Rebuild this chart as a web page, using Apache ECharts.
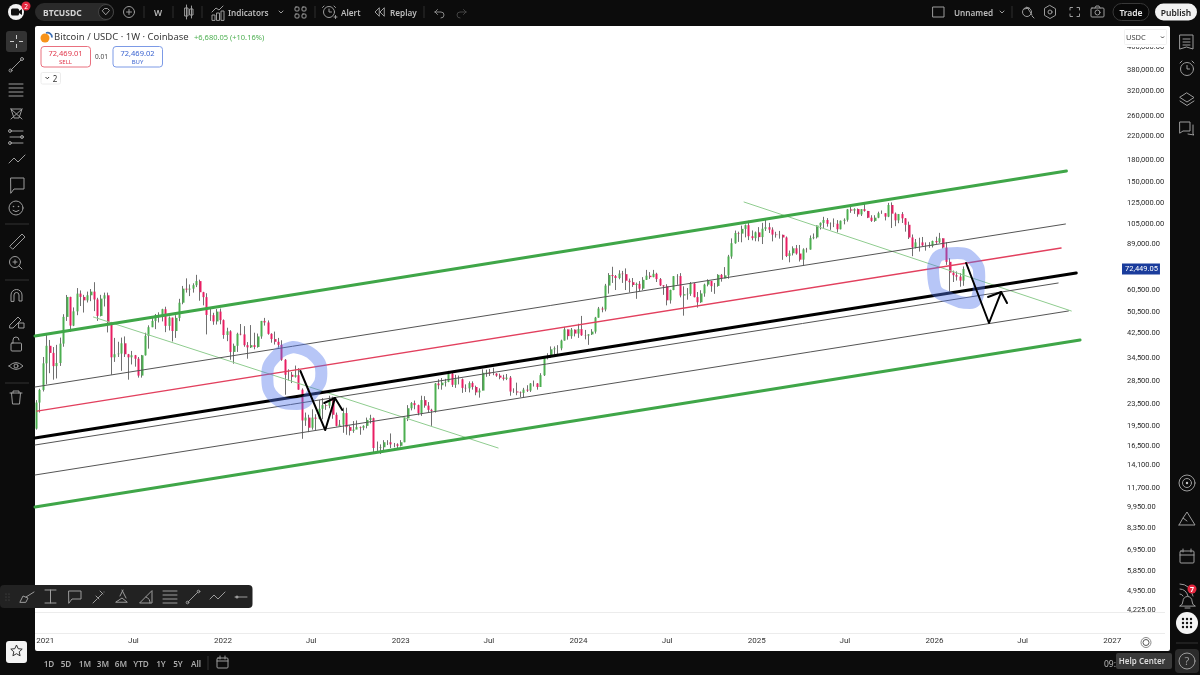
<!DOCTYPE html>
<html>
<head>
<meta charset="utf-8">
<title>BTCUSDC</title>
<script src="https://cdn.jsdelivr.net/npm/echarts@6/dist/echarts.min.js"></script>
<style>
  html, body { margin: 0; padding: 0; width: 1200px; height: 675px; overflow: hidden; background: #0c0c0c; }
  #panel { position: absolute; left: 35px; top: 26px; width: 1135px; height: 625px; background: #fff; border-radius: 2px; }
  .rule { position: absolute; left: 35px; width: 1130px; height: 1px; background: #ececec; }
  #chart { position: absolute; left: 0; top: 0; width: 1200px; height: 675px; }
  #chrome { position: absolute; left: 0; top: 0; pointer-events: none; font-family: 'Noto Sans', Roboto, sans-serif; }
  #chrome .i { fill: none; stroke: #9c9c9c; stroke-width: 1; stroke-linecap: round; stroke-linejoin: round; }
  #chrome .t { fill: #bcbcbc; font-size: 8.200px; }
  #chrome .d { fill: #aaa; font-size: 8.200px; font-weight: 600; text-anchor: middle; }
</style>
</head>
<body>
<div id="panel"></div>
<div class="rule" style="top:612px"></div>
<div class="rule" style="top:633px"></div>
<div id="chart"></div>
<svg id="chrome" width="1200" height="675" viewBox="0 0 1200 675">
  <!-- top bar -->
  <circle cx="16" cy="12" r="8" fill="#f4f4f4"/>
  <rect x="11" y="8.500" width="8" height="7" rx="1.500" fill="#111"/><path d="M19 11l3-2v6l-3-2z" fill="#111"/>
  <circle cx="26" cy="6" r="4.500" fill="#e5273f"/><text x="26" y="8.500" font-size="6.500" fill="#fff" text-anchor="middle">2</text>
  <rect x="35" y="3" width="79" height="18" rx="9" fill="#2a2a2a"/>
  <text x="43" y="15.500" font-size="8.500" font-weight="700" fill="#d4d4d4">BTCUSDC</text>
  <circle cx="106" cy="12" r="7.500" fill="#111" stroke="#444"/><path class="i" d="M102.500 10.500l2-2h3l2 2-3.500 4z"/>
  <circle class="i" cx="129" cy="12" r="5.500"/><path class="i" d="M126.500 12h5M129 9.500v5"/>
  <path d="M144 6v12M173 6v12M202 6v12M315 6v12M424 6v12" stroke="#2e2e2e"/>
  <text x="158" y="15.500" font-size="8.500" font-weight="600" fill="#bcbcbc" text-anchor="middle">W</text>
  <path class="i" d="M185 8h3v8h-3zM186.500 5v14M190 9h3v6h-3zM191.500 6v12"/>
  <path class="i" d="M212 20v-5h3v5zM216.500 20v-7h3v7zM221 20v-9h3v9zM212 12l4-4 3 2 4-4"/>
  <text x="228" y="15.500" class="t" font-weight="600">Indicators</text>
  <path class="i" d="M279 11l2 2 2-2"/>
  <rect class="i" x="295" y="7" width="4" height="4" rx="1"/><rect class="i" x="302" y="7" width="4" height="4" rx="1"/><rect class="i" x="295" y="14" width="4" height="4" rx="1"/><rect class="i" x="302" y="14" width="4" height="4" rx="1"/>
  <circle class="i" cx="329" cy="12" r="5.500"/><path class="i" d="M329 9v3h2.500M324 6l-1.500 1.500M334 6l1.500 1.500M334 17h3M335.500 15.500v3"/>
  <text x="341" y="15.500" class="t" font-weight="600">Alert</text>
  <path class="i" d="M379 8l-4 4 4 4zM384 8l-4 4 4 4z"/>
  <text x="390" y="15.500" class="t" font-weight="600">Replay</text>
  <path d="M435 12h6a3 3 0 0 1 0 6M435 12l2.500-2.500M435 12l2.500 2.500" fill="none" stroke="#888" stroke-linecap="round"/>
  <path d="M466 12h-6a3 3 0 0 0 0 6M466 12l-2.500-2.500M466 12l-2.500 2.500" fill="none" stroke="#444" stroke-linecap="round"/>
  <rect class="i" x="933" y="7" width="11" height="10"/>
  <text x="954" y="15.500" class="t" font-weight="600">Unnamed</text>
  <path class="i" d="M1000 11l2 2 2-2"/>
  <path d="M1012 6v12" stroke="#2e2e2e"/>
  <circle class="i" cx="1027" cy="12" r="4.500"/><path class="i" d="M1027 7l5 8M1032 16l2 2M1024 9l5-1"/>
  <path class="i" d="M1050 5.500l5.500 3.200v6.600l-5.500 3.200-5.500-3.200v-6.600z"/><circle class="i" cx="1050" cy="12" r="2"/>
  <path class="i" d="M1070 10v-2.500h2.500M1077 7.500h2.500v2.500M1079.500 14v2.500h-2.500M1072.500 16.500h-2.500v-2.500"/>
  <rect class="i" x="1091" y="8" width="13" height="9" rx="1"/><path class="i" d="M1095 8l1-2h3l1 2"/><circle class="i" cx="1097.500" cy="12.500" r="2.500"/>
  <rect x="1113" y="3.500" width="36" height="17" rx="8.500" fill="#080808" stroke="#383838"/>
  <text x="1131" y="15.500" font-size="8.500" font-weight="600" fill="#e8e8e8" text-anchor="middle">Trade</text>
  <rect x="1155" y="3.500" width="42" height="17" rx="8.500" fill="#f2f2f2"/>
  <text x="1176" y="15.500" font-size="8.500" font-weight="600" fill="#222" text-anchor="middle">Publish</text>
  <!-- legend -->
  <circle cx="45" cy="38" r="4.500" fill="#f7931a"/><path d="M46 33a4.500 4.500 0 0 1 6 4.500" fill="none" stroke="#3b6fb6" stroke-width="1.800"/>
  <text x="54" y="40" font-size="9.500" fill="#3a3a3a">Bitcoin / USDC · 1W · Coinbase</text>
  <text x="194" y="39.500" font-size="7.500" fill="#4caf50">+6,680.05 (+10.16%)</text>
  <rect x="41" y="46.500" width="49.500" height="20.500" rx="3" fill="#fff" stroke="#e9707f"/>
  <text x="65.500" y="55.500" font-size="7.500" fill="#e0364a" text-anchor="middle">72,469.01</text>
  <text x="65.500" y="64" font-size="6" fill="#e0364a" text-anchor="middle">SELL</text>
  <text x="101.500" y="59" font-size="6.500" fill="#444" text-anchor="middle">0.01</text>
  <rect x="113" y="46.500" width="49.500" height="20.500" rx="3" fill="#fff" stroke="#7c9ae6"/>
  <text x="137.500" y="55.500" font-size="7.500" fill="#3a63d0" text-anchor="middle">72,469.02</text>
  <text x="137.500" y="64" font-size="6" fill="#3a63d0" text-anchor="middle">BUY</text>
  <rect x="41" y="72.500" width="19.500" height="11.500" rx="1.500" fill="#fff" stroke="#ececec"/>
  <path d="M45.500 77l1.800 1.800 1.800-1.800" fill="none" stroke="#333"/><text x="55" y="81.500" font-size="8" fill="#333" text-anchor="middle">2</text>
  <!-- price scale currency box -->
  <rect x="1124" y="27" width="43" height="20" fill="#fff"/>
  <rect x="1124.500" y="29.500" width="42" height="15" rx="1" fill="#fff" stroke="#f1f1f1"/>
  <text x="1126" y="39.500" font-size="7.500" fill="#444">USDC</text>
  <path d="M1161 36.500l1.500 1.500 1.500-1.500" fill="none" stroke="#444"/>
  <!-- left tools -->
  <rect x="6" y="31" width="21" height="21" rx="3" fill="#333"/>
  <path d="M16.500 35v4M16.500 44v4M10 41.500h4M19 41.500h4" stroke="#ccc" fill="none"/>
  <path class="i" d="M11 70l10-10"/><circle class="i" cx="10.500" cy="70.500" r="1.500"/><circle class="i" cx="22" cy="59" r="1.500"/>
  <path class="i" d="M9 84h14M9 88h14M9 92h14M9 96h14"/>
  <path class="i" d="M11 109l10 0M11 109l3 9 5 0 3-9M11 119l11-10M11 109l11 10"/>
  <path class="i" d="M10 131h13M10 137h13M10 143h13"/><circle class="i" cx="10" cy="131" r="1.500"/><circle class="i" cx="22" cy="137" r="1.500"/><circle class="i" cx="10" cy="143" r="1.500"/>
  <path class="i" d="M9 163l5-5 4 4 7-7"/>
  <path class="i" d="M11 178h13v11h-10l-3 4z"/>
  <circle class="i" cx="16" cy="208" r="7"/><circle cx="13.500" cy="206.500" r=".8" fill="#9c9c9c"/><circle cx="18.500" cy="206.500" r=".8" fill="#9c9c9c"/><path class="i" d="M13 210.500q3 2.500 6 0"/>
  <path d="M5 224h24M5 280h24M5 383h24" stroke="#333"/>
  <path class="i" d="M10 246l12-12 3 3-12 12z"/>
  <circle class="i" cx="15" cy="262" r="5.500"/><path class="i" d="M19 266l3 3M13 262h4M15 260v4"/>
  <path class="i" d="M11 301v-6a5.500 5.500 0 0 1 11 0v6h-3v-6a2.500 2.500 0 0 0-5 0v6z"/>
  <path class="i" d="M10 325l8-8 3 3-8 8-3 0zM19 323h5v5h-5z"/>
  <rect class="i" x="11" y="343" width="10.500" height="8" rx="1"/><path class="i" d="M13 343v-3a3 3 0 0 1 6 0"/>
  <path class="i" d="M9 366q7-7 14 0q-7 7-14 0z"/><circle class="i" cx="16" cy="366" r="2"/>
  <path class="i" d="M10 393h12M13 393v-2h6v2M11.500 393l1 11h7l1-11"/>
  <!-- right tools -->
  <path class="i" d="M1180 35h13v14l-6.500-2-6.500 2zM1183 39h7M1183 42h7M1183 45h7"/>
  <circle class="i" cx="1187" cy="69" r="6.500"/><path class="i" d="M1187 65.500v3.500h2.500M1180 63l2-2M1194 63l-2-2"/>
  <path class="i" d="M1187 93l7 4.500-7 4.500-7-4.500zM1180 101l7 4.500 7-4.500"/>
  <path class="i" d="M1180 122h10v9h-7l-3 2zM1193 125v9l1 1-6-1"/>
  <circle class="i" cx="1187" cy="483" r="8"/><circle class="i" cx="1187" cy="483" r="4.500"/><circle cx="1187" cy="483" r="1.200" fill="#c8c8c8"/>
  <path class="i" d="M1179 525h16l-8-13-4 6 4 3M1179 525l4-7"/>
  <rect class="i" x="1180" y="551" width="14" height="12" rx="1"/><path class="i" d="M1180 555h14M1183 549v3M1191 549v3"/>
  <path class="i" d="M1180 584q10 0 13 12M1180 589q6 0 8 7M1180 594q2 0 3 2"/>
  <path class="i" d="M1180 606q3-1 3-5a4.500 4.500 0 0 1 9 0q0 4 3 5zM1185 608h5"/>
  <circle cx="1192" cy="589" r="4.500" fill="#e5273f"/><text x="1192" y="592" font-size="7" font-weight="700" fill="#fff" text-anchor="middle">7</text>
  <circle cx="1187" cy="623" r="11" fill="#f4f4f4"/>
  <g fill="#111"><circle cx="1183" cy="619" r="1.200"/><circle cx="1187" cy="619" r="1.200"/><circle cx="1191" cy="619" r="1.200"/><circle cx="1183" cy="623" r="1.200"/><circle cx="1187" cy="623" r="1.200"/><circle cx="1191" cy="623" r="1.200"/><circle cx="1183" cy="627" r="1.200"/><circle cx="1187" cy="627" r="1.200"/><circle cx="1191" cy="627" r="1.200"/></g>
  <path d="M1176 643h22" stroke="#333"/>
  <rect x="1175" y="649" width="24" height="24" rx="4" fill="#2b2b2b"/>
  <circle class="i" cx="1187" cy="661" r="8"/><text x="1187" y="665" font-size="11" fill="#999" text-anchor="middle">?</text>
  <!-- floating drawing toolbar -->
  <rect x="0" y="585" width="252.500" height="23" rx="4" fill="#222"/>
  <g fill="#555"><circle cx="6" cy="594" r=".6"/><circle cx="9" cy="594" r=".6"/><circle cx="6" cy="597" r=".6"/><circle cx="9" cy="597" r=".6"/><circle cx="6" cy="600" r=".6"/><circle cx="9" cy="600" r=".6"/></g>
  <path class="i" d="M20 602l3-6 5 2-2 4zM26 597l8-5"/>
  <path class="i" d="M45 590h11M45 603h11M50.500 590v13"/>
  <path class="i" d="M69 591h12v8h-9l-3 4z"/>
  <path class="i" d="M93 603l4-4M98 598l4-4M104 592l0 0M96 596l3 3M100 591l3 3"/>
  <path class="i" d="M116 602l6-4 5 4zM120 596l3-6M122 590l4 8"/>
  <path class="i" d="M140 603h12v-12zM146 597a6 6 0 0 1 4 6"/>
  <path class="i" d="M163 591h14M163 595h14M163 599h14M163 603h14"/>
  <path class="i" d="M188 602l10-10"/><circle class="i" cx="187.500" cy="602.500" r="1.300"/><circle class="i" cx="198.500" cy="591.500" r="1.300"/>
  <path class="i" d="M210 599l4-4 4 4 7-7"/>
  <path class="i" d="M235 597h12"/><circle cx="237" cy="597" r="1.500" fill="#9c9c9c"/>
  <!-- bottom bar -->
  <rect x="6" y="641" width="21" height="22" rx="3" fill="#f4f4f4"/>
  <path d="M16.500 645l1.700 3.700 4 .4-3 2.700.9 4-3.600-2.100-3.600 2.100.9-4-3-2.700 4-.4z" fill="none" stroke="#333"/>
  <text x="49" y="667" class="d">1D</text><text x="66" y="667" class="d">5D</text><text x="85" y="667" class="d">1M</text>
  <text x="103" y="667" class="d">3M</text><text x="121" y="667" class="d">6M</text><text x="141" y="667" class="d">YTD</text>
  <text x="161" y="667" class="d">1Y</text><text x="178" y="667" class="d">5Y</text><text x="196" y="667" class="d">All</text>
  <path d="M208 656v14" stroke="#333"/>
  <rect class="i" x="217" y="658" width="11" height="10" rx="1"/><path class="i" d="M217 661h11M220 656v3M225 656v3"/>
  <text x="1104" y="667" font-size="8.500" fill="#bbb">09:</text>
  <rect x="1116" y="653" width="56" height="16" rx="2" fill="#3a3a3a"/>
  <text x="1142" y="664" font-size="8" font-weight="600" fill="#dcdcdc" text-anchor="middle">Help Center</text>
  <!-- time scale settings -->
  <circle cx="1146" cy="642.500" r="3" fill="none" stroke="#555"/><circle cx="1146" cy="642.500" r="5" fill="none" stroke="#888"/>
</svg>
<script>
// weekly bars
const weekStarts = [
  '2020-12-14','2020-12-21','2020-12-28',
  '2021-01-04','2021-01-11','2021-01-18','2021-01-25','2021-02-01','2021-02-08','2021-02-15','2021-02-22','2021-03-01','2021-03-08','2021-03-15','2021-03-22','2021-03-29','2021-04-05','2021-04-12','2021-04-19','2021-04-26','2021-05-03','2021-05-10','2021-05-17','2021-05-24','2021-05-31','2021-06-07','2021-06-14','2021-06-21','2021-06-28','2021-07-05','2021-07-12','2021-07-19','2021-07-26','2021-08-02','2021-08-09','2021-08-16','2021-08-23','2021-08-30','2021-09-06','2021-09-13','2021-09-20','2021-09-27','2021-10-04','2021-10-11','2021-10-18','2021-10-25','2021-11-01','2021-11-08','2021-11-15','2021-11-22','2021-11-29','2021-12-06','2021-12-13','2021-12-20','2021-12-27',
  '2022-01-03','2022-01-10','2022-01-17','2022-01-24','2022-01-31','2022-02-07','2022-02-14','2022-02-21','2022-02-28','2022-03-07','2022-03-14','2022-03-21','2022-03-28','2022-04-04','2022-04-11','2022-04-18','2022-04-25','2022-05-02','2022-05-09','2022-05-16','2022-05-23','2022-05-30','2022-06-06','2022-06-13','2022-06-20','2022-06-27','2022-07-04','2022-07-11','2022-07-18','2022-07-25','2022-08-01','2022-08-08','2022-08-15','2022-08-22','2022-08-29','2022-09-05','2022-09-12','2022-09-19','2022-09-26','2022-10-03','2022-10-10','2022-10-17','2022-10-24','2022-10-31','2022-11-07','2022-11-14','2022-11-21','2022-11-28','2022-12-05','2022-12-12','2022-12-19','2022-12-26',
  '2023-01-02','2023-01-09','2023-01-16','2023-01-23','2023-01-30','2023-02-06','2023-02-13','2023-02-20','2023-02-27','2023-03-06','2023-03-13','2023-03-20','2023-03-27','2023-04-03','2023-04-10','2023-04-17','2023-04-24','2023-05-01','2023-05-08','2023-05-15','2023-05-22','2023-05-29','2023-06-05','2023-06-12','2023-06-19','2023-06-26','2023-07-03','2023-07-10','2023-07-17','2023-07-24','2023-07-31','2023-08-07','2023-08-14','2023-08-21','2023-08-28','2023-09-04','2023-09-11','2023-09-18','2023-09-25','2023-10-02','2023-10-09','2023-10-16','2023-10-23','2023-10-30','2023-11-06','2023-11-13','2023-11-20','2023-11-27','2023-12-04','2023-12-11','2023-12-18','2023-12-25',
  '2024-01-01','2024-01-08','2024-01-15','2024-01-22','2024-01-29','2024-02-05','2024-02-12','2024-02-19','2024-02-26','2024-03-04','2024-03-11','2024-03-18','2024-03-25','2024-04-01','2024-04-08','2024-04-15','2024-04-22','2024-04-29','2024-05-06','2024-05-13','2024-05-20','2024-05-27','2024-06-03','2024-06-10','2024-06-17','2024-06-24','2024-07-01','2024-07-08','2024-07-15','2024-07-22','2024-07-29','2024-08-05','2024-08-12','2024-08-19','2024-08-26','2024-09-02','2024-09-09','2024-09-16','2024-09-23','2024-09-30','2024-10-07','2024-10-14','2024-10-21','2024-10-28','2024-11-04','2024-11-11','2024-11-18','2024-11-25','2024-12-02','2024-12-09','2024-12-16','2024-12-23','2024-12-30',
  '2025-01-06','2025-01-13','2025-01-20','2025-01-27','2025-02-03','2025-02-10','2025-02-17','2025-02-24','2025-03-03','2025-03-10','2025-03-17','2025-03-24','2025-03-31','2025-04-07','2025-04-14','2025-04-21','2025-04-28','2025-05-05','2025-05-12','2025-05-19','2025-05-26','2025-06-02','2025-06-09','2025-06-16','2025-06-23','2025-06-30','2025-07-07','2025-07-14','2025-07-21','2025-07-28','2025-08-04','2025-08-11','2025-08-18','2025-08-25','2025-09-01','2025-09-08','2025-09-15','2025-09-22','2025-09-29','2025-10-06','2025-10-13','2025-10-20','2025-10-27','2025-11-03','2025-11-10','2025-11-17','2025-11-24','2025-12-01','2025-12-08','2025-12-15','2025-12-22','2025-12-29',
  '2026-01-05','2026-01-12','2026-01-19','2026-01-26','2026-02-02','2026-02-09','2026-02-16','2026-02-23','2026-03-02'
]
const closes = [
  23800,26450,33000,
  38200,36000,32250,33100,38900,48600,57400,45200,50900,59000,57400,55800,58200,60000,56200,49000,56600,58200,46400,34700,35600,35800,39000,35600,34700,35300,34300,29800,35300,41500,44600,47000,49300,48900,51800,45100,48300,43200,48200,54700,61500,61000,61500,63300,65500,59700,57300,49400,49300,46800,50800,47300,
  41800,43100,36300,38200,42200,42000,38400,37700,38400,37800,41300,47000,46400,42200,40400,39500,38500,34000,30000,30000,29500,29900,26500,20500,21000,19300,21000,20800,22600,23300,23200,24300,21500,19600,19800,21800,19400,18800,19000,19400,19300,19600,20600,20900,16300,16300,16400,17100,17100,16800,16800,16600,
  17100,20900,22700,23700,23300,21800,24300,23200,22400,22200,27900,27500,28100,28300,30300,27600,28900,28900,26900,26800,28000,27100,25900,26300,30500,30600,30300,30300,29800,29300,29000,29300,26100,26100,25900,25800,26500,26300,27900,27900,27100,29900,34500,35000,37100,37400,37400,39900,43800,41400,43700,42300,
  43900,41700,41600,42000,43000,48300,52100,51700,63100,68900,68300,67200,69700,69400,65700,64900,63400,64000,61500,66200,68500,67700,69600,66600,63200,62700,55800,60800,68200,68300,58100,58700,58900,64200,57300,54900,59100,63600,65600,62800,62900,69000,67000,68700,80400,89800,97800,97300,101200,104400,95200,93700,98300,
  94500,101300,102600,100600,96500,96100,96300,94200,80700,82600,86100,82400,78300,85300,85200,93700,94300,104100,106400,109000,105600,105700,105600,100900,108300,109200,119000,117900,119400,114200,119300,117500,111100,108200,111100,115300,115300,112100,123500,114900,108700,114500,110500,104700,94200,86800,90400,90400,88200,88100,87800,91500,
  90500,93600,86600,76900,70300,68800,68000,65769,72449.05
]
const opens = [
  19150,23800,26450,
  33000,38200,36000,32250,33100,38900,48600,57400,45200,50900,59000,57400,55800,58200,60000,56200,49000,56600,58200,46400,34700,35600,35800,39000,35600,34700,35300,34300,29800,35300,41500,44600,47000,49300,48900,51800,45100,48300,43200,48200,54700,61500,61000,61500,63300,65500,59700,57300,49400,49300,46800,50800,
  47300,41800,43100,36300,38200,42200,42000,38400,37700,38400,37800,41300,47000,46400,42200,40400,39500,38500,34000,30000,30000,29500,29900,26500,20500,21000,19300,21000,20800,22600,23300,23200,24300,21500,19600,19800,21800,19400,18800,19000,19400,19300,19600,20600,20900,16300,16300,16400,17100,17100,16800,16800,
  16600,17100,20900,22700,23700,23300,21800,24300,23200,22400,22200,27900,27500,28100,28300,30300,27600,28900,28900,26900,26800,28000,27100,25900,26300,30500,30600,30300,30300,29800,29300,29000,29300,26100,26100,25900,25800,26500,26300,27900,27900,27100,29900,34500,35000,37100,37400,37400,39900,43800,41400,43700,
  42300,43900,41700,41600,42000,43000,48300,52100,51700,63100,68900,68300,67200,69700,69400,65700,64900,63400,64000,61500,66200,68500,67700,69600,66600,63200,62700,55800,60800,68200,68300,58100,58700,58900,64200,57300,54900,59100,63600,65600,62800,62900,69000,67000,68700,80400,89800,97800,97300,101200,104400,95200,93700,
  98300,94500,101300,102600,100600,96500,96100,96300,94200,80700,82600,86100,82400,78300,85300,85200,93700,94300,104100,106400,109000,105600,105700,105600,100900,108300,109200,119000,117900,119400,114200,119300,117500,111100,108200,111100,115300,115300,112100,123500,114900,108700,114500,110500,104700,94200,86800,90400,90400,88200,88100,87800,
  91500,90500,93600,86600,76900,70300,68800,68000,65769
]
const highs = [
  24300,26700,34800,
  41900,40100,37800,38500,40900,49700,58350,57500,52600,61800,60600,58400,60000,61300,64900,57000,58400,59500,59500,46600,40800,39500,40900,41300,35700,36600,35400,34800,35400,42600,45300,48100,49800,50500,52000,52900,48800,48300,49300,56500,62900,67000,63700,64300,69000,66300,59900,59200,51900,50300,51900,52100,
  47600,44400,43500,38900,42600,45800,45000,39400,45400,42600,42300,47000,48200,47200,42400,43000,40800,40000,34200,31400,30700,32400,31700,26800,21900,21500,22500,21600,24300,24700,23500,25200,25000,21900,20600,22800,22800,19700,20400,20500,19500,19700,21000,21500,21000,17200,16800,17400,17400,18400,17000,16950,
  17400,21200,23300,23900,24200,23400,25200,25100,23900,22600,28000,28900,29200,29000,31000,30500,30000,29800,29100,27700,28400,28400,27400,26800,31400,31300,31500,31800,30400,30300,30000,30200,29700,26800,28100,26100,26900,27500,28000,28600,28000,30400,35100,35900,38000,38000,38400,40200,44700,43800,44300,43800,
  45900,49000,43600,42100,43900,48600,52800,52900,64000,70000,73800,68900,71700,71300,72800,66900,67200,64700,65500,67700,71900,70600,71900,70200,67200,63300,63800,61000,68300,69400,70000,62700,61800,65000,64500,59800,60700,64100,66500,65600,64500,69400,69500,73600,81500,93500,99800,98900,104000,105000,108300,99900,99000,
  102700,106400,109400,106400,102500,98800,99500,96500,95000,84500,87500,88500,88500,86100,86400,95800,97400,104300,106800,111900,110700,106800,110400,108900,108500,110500,119500,123200,120200,120000,119300,124500,117600,113400,113400,116800,118000,115300,125700,126200,116000,114600,116400,110800,107500,96600,93000,94000,94600,90400,90600,91800,
  94800,97900,93600,90500,79300,71500,71000,70000,74000
]
const lows = [
  19000,21900,26100,
  27700,30400,28800,29100,32300,37900,47000,43000,45000,49300,53200,50400,54800,55400,51000,47000,48800,53000,42700,30000,33400,34800,31000,34800,28800,32700,32100,29300,29300,35200,37300,44600,43900,46400,46800,42800,43400,39600,40800,46900,54000,59500,57800,59500,62300,55600,53500,42000,47000,45500,45600,45700,
  40500,39700,34000,32900,36300,41700,37900,34300,37500,37100,37600,40500,45200,41900,39200,38600,37600,33700,25400,28600,28000,29300,26500,17600,19600,18600,19000,18900,20700,20700,22400,22700,20800,19500,19600,18500,18200,18100,18500,19100,18200,18900,19200,20000,15600,15900,15500,16000,16700,16300,16400,16300,
  16500,17100,20400,22300,22500,21400,21300,22800,21900,19600,21900,26600,26500,27200,28200,27100,26900,27700,25800,26000,25900,26500,25300,24800,26300,29500,29700,29900,29500,28900,28600,28700,25200,25800,25300,24900,24900,26000,26000,27200,26500,27100,29700,34100,34500,35500,35700,36800,39900,40200,40500,41300,
  40800,41500,40300,38500,41800,42300,48300,50500,50900,59000,64500,60800,66500,64500,60800,59600,62400,56500,60200,60800,66100,66700,67600,65000,62900,58400,53500,54300,60700,63500,57200,49100,56100,57900,57200,52500,54600,57500,62700,59900,58900,62500,65200,67000,66800,78900,89400,90800,90500,94300,92200,92000,91300,
  91200,89200,99500,97800,91200,94100,93300,78200,80000,76600,81100,81600,77100,74400,83100,85100,92800,93400,100700,102000,103100,100400,102700,98200,100800,105100,107500,115700,114700,112000,112700,116800,110700,107300,107300,110600,114700,108600,111600,102000,103500,106100,106300,98900,93000,80600,86000,83800,87500,84400,86400,86700,
  89300,90000,86000,75000,60000,65000,65800,62500,63000
]

// time scale and price scale labels
const timeTicks = ['2021-01-01','2021-07-01','2022-01-01','2022-07-01','2023-01-01','2023-07-01','2024-01-01','2024-07-01','2025-01-01','2025-07-01','2026-01-01','2026-07-01','2027-01-01']
const timeLabels = ['2021','Jul','2022','Jul','2023','Jul','2024','Jul','2025','Jul','2026','Jul','2027']
const priceTicks = [460000,380000,320000,260000,220000,180000,150000,125000,105000,89000,60500,50500,42500,34500,28500,23500,19500,16500,14100,11700,9950,8350,6950,5850,4950,4225]

// drawings on the chart: [date, price]
const upperGreen = [['2020-12-11',41450],['2026-09-29',163900]]
const lowerGreen = [['2020-12-11',9968],['2026-10-27',40087]]
const thickBlack = [['2020-12-11',17716],['2026-10-19',70060]]
const redMid = [['2020-12-15',22180],['2026-09-18',86290]]
const thinUpper = [['2020-12-11',27095],['2026-09-27',105400]]
const thinMid = [['2020-12-11',16710],['2026-09-12',64460]]
const thinLower = [['2020-12-11',13013],['2026-10-03',51050]]
const paleGreenA = [['2021-04-10',48550],['2023-07-20',16300]]
const paleGreenB = [['2024-12-06',126600],['2026-10-09',51050]]
const ringA = [['2022-05-25',37810],['2022-07-05',35380],['2022-07-22',30450],['2022-07-09',26430],['2022-06-02',23520],['2022-04-18',24720],['2022-04-02',29940],['2022-04-22',35380],['2022-05-25',37810]]
const ringB = [['2025-12-29',73040],['2026-01-13',81420],['2026-02-17',82770],['2026-03-22',78090],['2026-04-03',67780],['2026-04-01',59320],['2026-03-15',54560],['2026-02-02',56880],['2026-01-02',62350],['2025-12-29',73040]]
const arrowA = [['2022-06-09',30960],['2022-07-30',18930],['2022-08-19',24720],['2022-09-03',22370]]
const arrowAHead = [['2022-07-28',23720],['2022-08-19',24720]]
const arrowB = [['2026-03-07',76150],['2026-04-23',46190],['2026-05-18',59800],['2026-05-30',54560]]
const arrowBHead = [['2026-04-21',57370],['2026-05-18',59800]]

const toTime = (d) => +new Date(d + 'T00:00:00')
const timeLabelByValue = {}
timeTicks.forEach((d, i) => { timeLabelByValue[toTime(d)] = timeLabels[i] })

// one series for the grey wicks, one on top for the coloured bodies
const wickData = weekStarts.map((d, i) => [toTime(d), opens[i], closes[i], lows[i], highs[i]])
const bodyData = weekStarts.map((d, i) => {
  const bottom = Math.min(opens[i], closes[i])
  const top = Math.max(opens[i], closes[i])
  return [toTime(d), opens[i], closes[i], bottom, top]
})

const drawing = (data, color, width, extra) => Object.assign({
  type: 'line',
  data: data.map(p => [toTime(p[0]), p[1]]),
  symbol: 'none',
  silent: true,
  animation: false,
  lineStyle: { color, width, cap: 'round', join: 'round' },
}, extra || {})

const ringStyle = { smooth: 0.5, z: 5 }

const chart = echarts.init(document.getElementById('chart'), null, { renderer: 'canvas' })
chart.setOption({
  animation: false,
  backgroundColor: 'transparent',
  grid: { left: 35, right: 80, top: 26, bottom: 63 },
  xAxis: {
    type: 'value',
    min: toTime('2020-12-11'),
    max: toTime('2027-01-17'),
    splitLine: { show: false },
    axisLine: { show: false },
    axisTick: { show: false },
    axisLabel: {
      margin: 25,
      fontFamily: 'Roboto',
      fontSize: 8,
      color: '#333',
      customValues: timeTicks.map(toTime),
      hideOverlap: false,
      formatter: (v) => timeLabelByValue[v] || '',
    },
  },
  yAxis: {
    type: 'log',
    logBase: 10,
    position: 'right',
    min: 4155,
    max: 548900,
    splitLine: { show: false },
    axisLine: { show: false },
    axisTick: { show: false },
    axisLabel: {
      margin: 7,
      align: 'left',
      fontFamily: 'Roboto',
      fontSize: 7.5,
      color: '#2a2a2a',
      customValues: priceTicks,
      formatter: (v) => v.toLocaleString('en-US', { minimumFractionDigits: 2, maximumFractionDigits: 2 }),
    },
  },
  series: [
    {
      type: 'candlestick',
      name: 'wick',
      data: wickData,
      barWidth: 1,
      silent: true,
      itemStyle: { color: '#707070', color0: '#707070', borderColor: '#707070', borderColor0: '#707070', borderWidth: 1 },
    },
    {
      type: 'candlestick',
      name: 'body',
      data: bodyData,
      barWidth: 2.500,
      silent: true,
      itemStyle: { color: '#4caf50', color0: '#e91e63', borderColor: '#4caf50', borderColor0: '#e91e63', borderWidth: 0 },
      markLine: {
        silent: true,
        symbol: 'none',
        animation: false,
        lineStyle: { color: 'transparent', width: 0 },
        data: [{ yAxis: closes[closes.length - 1] }],
        label: {
          position: 'end',
          distance: 2,
          fontFamily: 'Roboto',
          fontSize: 7.5,
          color: '#fff',
          backgroundColor: '#1a3c9c',
          padding: [2, 2, 1, 3],
          formatter: (p) => p.value.toLocaleString('en-US', { minimumFractionDigits: 2, maximumFractionDigits: 2 }),
        },
      },
    },
    drawing(paleGreenA, '#8fcc8f', 1),
    drawing(paleGreenB, '#8fcc8f', 1),
    drawing(thinUpper, '#555', 1),
    drawing(thinMid, '#555', 1),
    drawing(thinLower, '#555', 1),
    drawing(redMid, '#e2405e', 1.3),
    drawing(upperGreen, '#3fa648', 3),
    drawing(lowerGreen, '#3fa648', 3),
    drawing(thickBlack, '#000', 3.2),
    drawing(ringA, 'rgba(84,120,235,0.42)', 12, ringStyle),
    drawing(ringB, 'rgba(84,120,235,0.42)', 12, ringStyle),
    drawing(arrowA, '#000', 2, { z: 6 }),
    drawing(arrowAHead, '#000', 2, { z: 6 }),
    drawing(arrowB, '#000', 2, { z: 6 }),
    drawing(arrowBHead, '#000', 2, { z: 6 }),
  ],
})
</script>
</body>
</html>
